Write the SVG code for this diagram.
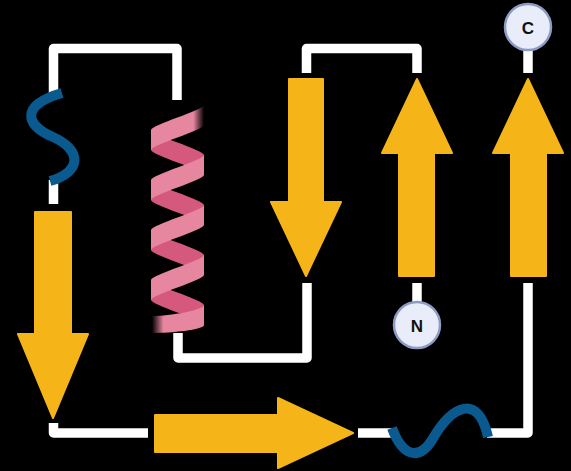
<svg xmlns="http://www.w3.org/2000/svg" width="571" height="471" viewBox="0 0 571 471">
  <defs>
    <style>
      .link { fill: none; stroke: #ffffff; stroke-width: 9.5; stroke-linejoin: round; stroke-linecap: butt; }
      .strand { fill: #f5b518; stroke: #f5b518; stroke-width: 2; stroke-linejoin: round; }
      .coil { fill: none; stroke: #0b5a8f; stroke-width: 10; stroke-linecap: butt; }
      .front { fill: #e6869f; }
      .back { fill: #d4597d; }
      .term circle { fill: #e9edf9; stroke: #8d9bc4; stroke-width: 2.5; }
      .term text { font-family: "Liberation Sans", Arial, sans-serif; font-weight: bold; font-size: 17px; fill: #111111; text-anchor: middle; dominant-baseline: central; }
    </style>
    <linearGradient id="fadeRight" x1="0" y1="0" x2="1" y2="0">
      <stop offset="0.8" stop-color="#e6869f"/>
      <stop offset="1" stop-color="#e6869f" stop-opacity="0"/>
    </linearGradient>
    <linearGradient id="fadeLeft" x1="0" y1="0" x2="1" y2="0">
      <stop offset="0" stop-color="#e6869f" stop-opacity="0"/>
      <stop offset="0.22" stop-color="#e6869f"/>
    </linearGradient>
  </defs>

  <rect width="571" height="471" fill="#000000"/>

  <!-- loops joining the elements -->
  <g id="connectors">
    <path class="link" d="M53.5,94 L53.5,48.5 L177,48.5 L177,100"/>
    <path class="link" d="M53.5,180 L53.5,204"/>
    <path class="link" d="M178,333 L178,358 L307,358 L307,283"/>
    <path class="link" d="M306.5,73 L306.5,48.5 L417,48.5 L417,73"/>
    <path class="link" d="M417,283 L417,303"/>
    <path class="link" d="M53.5,423 L53.5,433 L148,433"/>
    <path class="link" d="M358,433 L392,433"/>
    <path class="link" d="M487,433 L528,433 L528,283"/>
    <path class="link" d="M528,73 L528,49"/>
  </g>

  <!-- random coil, upper left -->
  <g id="coil1">
    <path class="coil" d="M62,93 C20,105 25,125 53,137 C82,150 82,172 50,181"/>
  </g>

  <!-- alpha helix ribbon -->
  <g id="helix">
    <!-- rear half-turns -->
    <path class="back" d="M151,130 C151,135 204,150 204,155 L204,175 C204,170 151,155 151,150 Z"/>
    <path class="back" d="M151,180 C151,185 204,200 204,205 L204,225 C204,220 151,205 151,200 Z"/>
    <path class="back" d="M151,230 C151,235 204,250 204,255 L204,275 C204,270 151,255 151,250 Z"/>
    <path class="back" d="M151,280 C151,285 204,300 204,305 L204,325 C204,320 151,305 151,300 Z"/>
    <!-- front half-turns -->
    <path fill="url(#fadeRight)" d="M204,105 C204,110 151,125 151,130 L151,150 C151,145 204,130 204,125 Z"/>
    <path class="front" d="M204,155 C204,160 151,175 151,180 L151,200 C151,195 204,180 204,175 Z"/>
    <path class="front" d="M204,205 C204,210 151,225 151,230 L151,250 C151,245 204,230 204,225 Z"/>
    <path class="front" d="M204,255 C204,260 151,275 151,280 L151,300 C151,295 204,280 204,275 Z"/>
    <path fill="url(#fadeLeft)" d="M204,305 C204,310 170,316 152,316 L152,333 C170,333 204,330 204,325 Z"/>
  </g>

  <!-- beta strands -->
  <g id="strand1">
    <polygon class="strand" points="35,212 71,212 71,334 88,334 53,418 18,334 35,334"/>
  </g>
  <g id="strand2">
    <polygon class="strand" points="289,79 323,79 323,202 341,202 306,276 271,202 289,202"/>
  </g>
  <g id="strand3">
    <polygon class="strand" points="417,79 452,153 434,153 434,276 399,276 399,153 382,153"/>
  </g>
  <g id="strand4">
    <polygon class="strand" points="528,79 563,153 546,153 546,276 511,276 511,153 493,153"/>
  </g>
  <g id="strand5">
    <polygon class="strand" points="155,415 278,415 278,398 353,433 278,468 278,452 155,452"/>
  </g>

  <!-- random coil, bottom -->
  <g id="coil2">
    <path class="coil" d="M392,428 C402,455 418,462 432,440 C452,405 478,393 488,437"/>
  </g>

  <!-- chain termini -->
  <g id="nTerminus" class="term">
    <circle cx="417" cy="325" r="23"/>
    <text x="417" y="326">N</text>
  </g>
  <g id="cTerminus" class="term">
    <circle cx="528" cy="27" r="23"/>
    <text x="528" y="28">C</text>
  </g>
</svg>
